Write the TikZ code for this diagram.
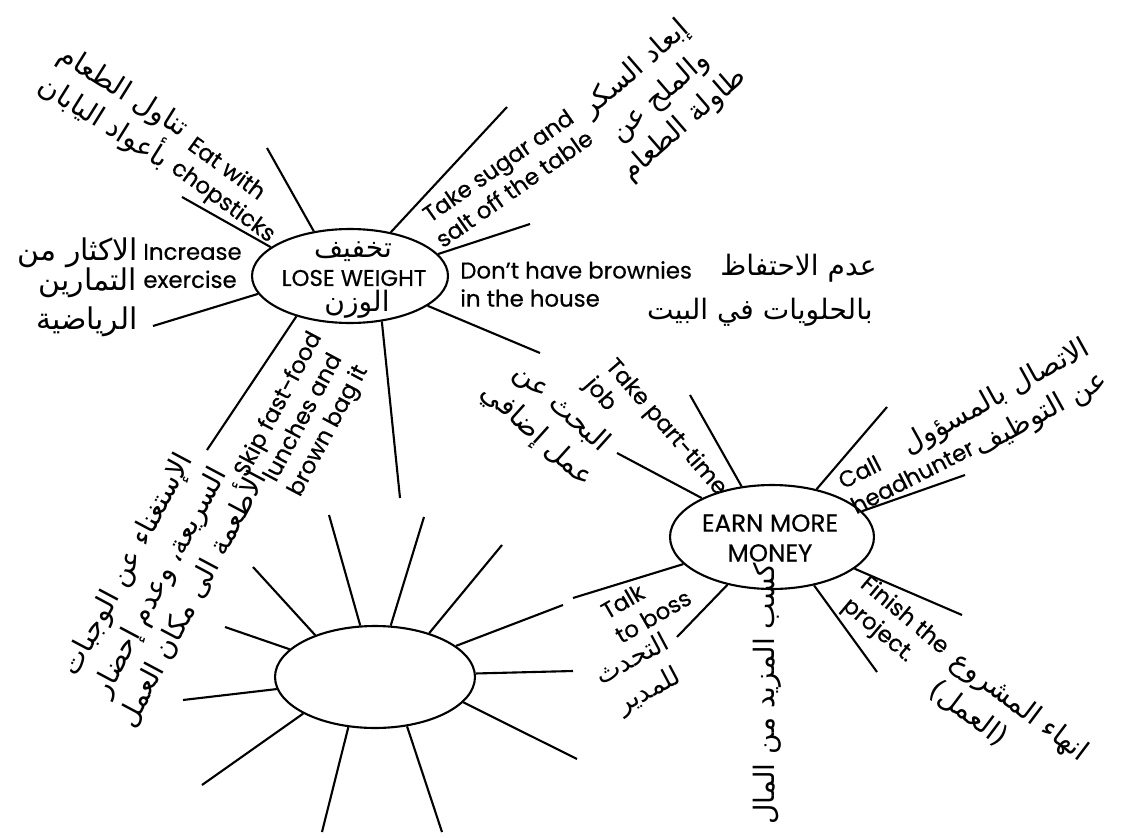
\documentclass[tikz,border=0pt]{standalone}
\usepackage{fontspec}
\setmainfont{Poppins}[FakeBold=0.5]
\newfontfamily\arabicfont[Script=Arabic]{DejaVu Sans}
\TeXXeTstate=1
\usetikzlibrary{shapes.geometric}
\newcommand{\arl}[1]{{\arabicfont\beginR #1\endR}}
\begin{document}
\begin{tikzpicture}[x=0.02cm,y=-0.02cm,
  hub/.style={draw, ellipse, line width=1.2pt, inner sep=0pt},
  spoke/.style={line width=1.2pt},
  en/.style={font=\fontsize{13}{16}\selectfont, inner sep=0pt},
  ttl/.style={font=\fontsize{13}{17}\selectfont, inner sep=0pt},
  ar/.style={font=\fontsize{16}{21}\selectfont, inner sep=0pt}
]
\path[use as bounding box, fill=white] (0,0) rectangle (1143,838);

% hubs
\node[hub, minimum width=3.92cm, minimum height=1.88cm] (e1) at (350,276) {};
\node[hub, minimum width=4.08cm, minimum height=2.08cm] (e2) at (772,537) {};
\node[hub, minimum width=4.0cm, minimum height=2.04cm] (e3) at (375,677) {};

% free ends
\coordinate (l1) at (267,148);
\coordinate (l2) at (182,197);
\coordinate (l3) at (507,107);
\coordinate (l4) at (530,224);
\coordinate (l5) at (540,353);
\coordinate (l6) at (400,498);
\coordinate (l7) at (207,450);
\coordinate (l8) at (153,326);

\coordinate (m1) at (690,395);
\coordinate (m2) at (617,453);
\coordinate (m3) at (887,407);
\coordinate (m4) at (965,475);
\coordinate (m5) at (962,615);
\coordinate (m6) at (877,672);
\coordinate (m7) at (573,598);
\coordinate (m8) at (677,637);

\coordinate (s1) at (329,515);
\coordinate (s2) at (424,517);
\coordinate (s3) at (502,545);
\coordinate (s4) at (563,605);
\coordinate (s5) at (573,671);
\coordinate (s6) at (577,759);
\coordinate (s7) at (442,832);
\coordinate (s8) at (322,832);
\coordinate (s9) at (202,785);
\coordinate (s10) at (183,700);
\coordinate (s11) at (225,627);
\coordinate (s12) at (253,567);

% spokes
\draw[spoke] (e1.129) -- (l1);
\draw[spoke] (e1.160) -- (l2);
\draw[spoke] (e1.47) -- (l3);
\draw[spoke] (e1.14.5) -- (l4);
\draw[spoke] (e1.-21) -- (l5);
\draw[spoke] (e1.-55.5) -- (l6);
\draw[spoke] (e1.217.7) -- (l7);
\draw[spoke] (e1.191.5) -- (l8);

\draw[spoke] (e2.121) -- (m1);
\draw[spoke] (e2.151) -- (m2);
\draw[spoke] (e2.47) -- (m3);
\draw[spoke] (e2.16.5) -- (m4);
\draw[spoke] (e2.-21) -- (m5);
\draw[spoke] (e2.-49) -- (m6);
\draw[spoke] (e2.197) -- (m7);
\draw[spoke] (e2.227) -- (m8);

\draw[spoke] (e3.106.7) -- (s1);
\draw[spoke] (e3.73.3) -- (s2);
\draw[spoke] (e3.39.2) -- (s3);
\draw[spoke] (e3.21.3) -- (s4);
\draw[spoke] (e3.2.3) -- (s5);
\draw[spoke] (e3.-16.9) -- (s6);
\draw[spoke] (e3.-57.1) -- (s7);
\draw[spoke] (e3.242.5) -- (s8);
\draw[spoke] (e3.207.2) -- (s9);
\draw[spoke] (e3.187.6) -- (s10);
\draw[spoke] (e3.162.1) -- (s11);
\draw[spoke] (e3.145.9) -- (s12);

% hub texts
\node[ar] (t1a) at (353,252) {\arl{تخفيف}};
\node[ttl] (t1b) at (354,278) {LOSE WEIGHT};
\node[ar] (t1c) at (357,304) {\arl{الوزن}};
\node[ttl, font=\fontsize{14}{17}\selectfont, align=center] (t2) at (770,538) {EARN MORE\\MONEY};

% lose weight labels
\node[en, align=left, rotate=-36] (eat) at (231,191) {Eat with\\chopsticks};
\node[ar, align=center, rotate=-32] (eatar) at (113,108) {\arl{تناول الطعام}\\\arl{بأعواد اليابان}};
\node[en, align=center, rotate=35] (sug) at (506,177) {Take sugar and\\salt off the table};
\node[ar, align=center, rotate=41] (sugar) at (660,97) {\arl{إبعاد السكر}\\\arl{والملح عن}\\\arl{طاولة الطعام}};
\node[en, align=left, anchor=west] (inc) at (143,266) {Increase\\exercise};
\node[ar, font=\fontsize{17}{21}\selectfont] (inca) at (78,253) {\arl{الاكثار من}};
\node[ar, font=\fontsize{17}{21}\selectfont] (incb) at (88,283) {\arl{التمارين}};
\node[ar, font=\fontsize{17}{21}\selectfont] (incc) at (87,322) {\arl{الرياضية}};
\node[en, align=left, anchor=west] (brw) at (460,284) {Don’t have brownies\\in the house};
\node[ar, anchor=east] (brwa) at (877,268) {\arl{عدم الاحتفاظ}};
\node[ar, anchor=east] (brwb) at (873,312) {\arl{بالحلويات في البيت}};
\node[en, align=center, rotate=62] (skip) at (304,418) {Skip fast-food\\lunches and\\brown bag it};
\node[ar, align=center, rotate=62] (skipar) at (160,582) {\arl{الإستغناء عن الوجبات}\\\arl{السريعة، وعدم إحضار}\\\arl{الأطعمة الى مكان العمل}};

% earn more money labels
\node[en, align=left, rotate=-49] (job) at (655,437) {Take part-time\\job};
\node[ar, align=center, rotate=-42] (jobar) at (549,422) {\arl{البحث عن}\\\arl{عمل إضافي}};
\node[en, align=left, rotate=27] (call) at (906,464) {Call\\headhunter};
\node[ar, align=right, rotate=29] (callar) at (1005,414) {\arl{الاتصال بالمسؤول}\\\arl{عن التوظيف}};
\node[en, align=left, rotate=-40] (fin) at (895,627) {Finish the\\project.};
\node[ar, align=left, rotate=-37] (finar) at (1009,721) {\arl{انهاء المشروع}\\\arl{(العمل)}};
\node[en, align=left, rotate=30] (talk) at (646,604) {Talk\\to boss};
\node[ar, font=\fontsize{15}{20}\selectfont, align=center, rotate=28] (talkar) at (641,676) {\arl{التحدث}\\\arl{للمدير}};
\node[ar, rotate=90] (earnar) at (767,694) {\arl{كسب المزيد من المال}};
\end{tikzpicture}
\end{document}
